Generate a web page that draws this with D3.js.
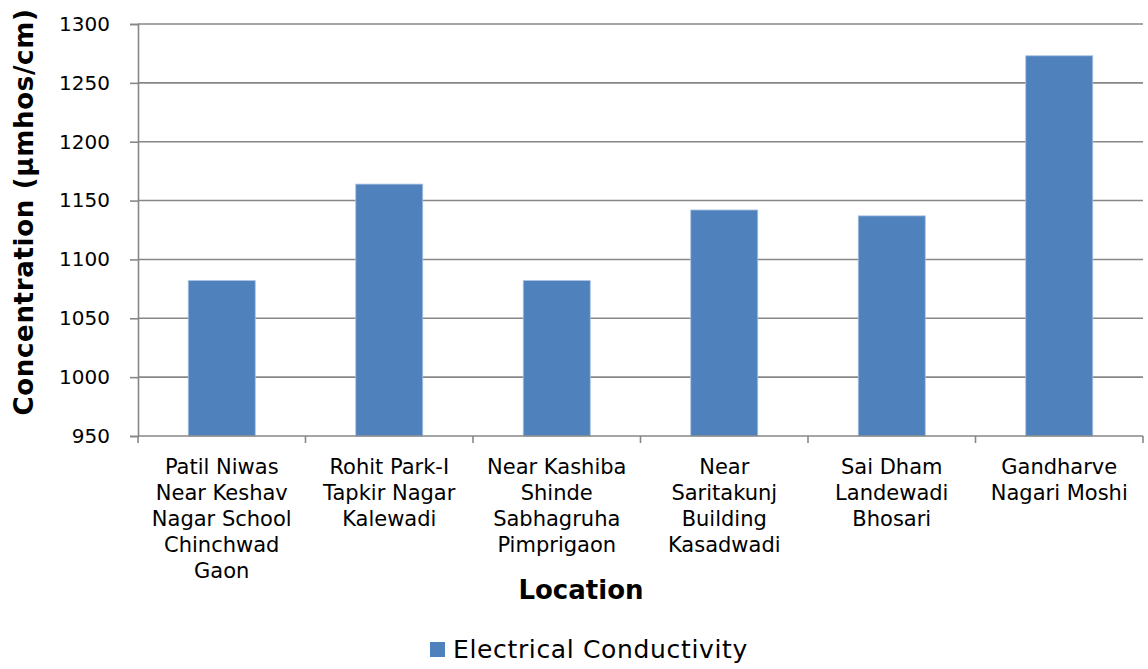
<!DOCTYPE html>
<html>
<head>
<meta charset="utf-8">
<script src="https://cdn.jsdelivr.net/npm/d3@7"></script>
<style>
  body { margin: 0; background: #fff; }
  svg { display: block; font-family: "DejaVu Sans", Verdana, sans-serif; }
</style>
</head>
<body>
<svg id="chart" width="1148" height="669"></svg>
<script>
// Sampling locations (multi-line labels)
const locations = [
  ["Patil Niwas", "Near Keshav", "Nagar School", "Chinchwad", "Gaon"],
  ["Rohit Park-I", "Tapkir Nagar", "Kalewadi"],
  ["Near Kashiba", "Shinde", "Sabhagruha", "Pimprigaon"],
  ["Near", "Saritakunj", "Building", "Kasadwadi"],
  ["Sai Dham", "Landewadi", "Bhosari"],
  ["Gandharve", "Nagari Moshi"]
];
// Electrical conductivity (µmhos/cm)
const conductivity = [1082, 1164, 1082, 1142, 1137, 1273];
const yTicks = [950, 1000, 1050, 1100, 1150, 1200, 1250, 1300];
const seriesName = "Electrical Conductivity";

const svg = d3.select("#chart");
const left = 138, right = 1143;
const y0 = 436, y1 = 24;
const plotW = right - left;

const x = d3.scaleBand()
  .domain(d3.range(locations.length))
  .range([left, right])
  .paddingInner(0.6)
  .paddingOuter(0.3);

const y = d3.scaleLinear().domain([950, 1300]).range([y0, y1]);

const gridColor = "#878787";

// horizontal gridlines
svg.append("g").selectAll("line")
  .data(yTicks.slice(1))
  .join("line")
  .attr("x1", left).attr("x2", right)
  .attr("y1", d => y(d)).attr("y2", d => y(d))
  .attr("stroke", gridColor).attr("stroke-width", 1.6);

// bars
svg.append("g").selectAll("rect")
  .data(conductivity)
  .join("rect")
  .attr("x", (d, i) => x(i))
  .attr("width", x.bandwidth())
  .attr("y", d => y(d))
  .attr("height", d => y0 - y(d))
  .attr("fill", "#4F81BD")
  .attr("stroke", "#a9c1e0")
  .attr("stroke-width", 0.8);

// y axis
const yAxis = d3.axisLeft(y).tickValues(yTicks).tickSize(8).tickPadding(20).tickFormat(d3.format("d"));
const gy = svg.append("g").attr("transform", `translate(${left},0)`).call(yAxis);
gy.select(".domain").attr("stroke", gridColor).attr("stroke-width", 1.6);
gy.selectAll(".tick line").attr("stroke", gridColor).attr("stroke-width", 1.6);
gy.selectAll(".tick text").attr("font-size", 20).attr("fill", "#000")
  .attr("font-family", "DejaVu Sans, Verdana, sans-serif");

// x axis baseline and category boundary ticks
const bounds = d3.range(locations.length + 1).map(i => left + i * plotW / locations.length);
svg.append("line")
  .attr("x1", left).attr("x2", right)
  .attr("y1", y0).attr("y2", y0)
  .attr("stroke", gridColor).attr("stroke-width", 1.6);
svg.append("g").selectAll("line")
  .data(bounds)
  .join("line")
  .attr("x1", d => d).attr("x2", d => d)
  .attr("y1", y0).attr("y2", y0 + 7)
  .attr("stroke", gridColor).attr("stroke-width", 1.6);

// category labels
const labels = svg.append("g").selectAll("text")
  .data(locations)
  .join("text")
  .attr("text-anchor", "middle")
  .attr("font-size", 21)
  .attr("fill", "#000")
  .attr("x", (d, i) => x(i) + x.bandwidth() / 2)
  .attr("y", 474);
labels.selectAll("tspan")
  .data((d, i) => d.map(t => ({ t, i })))
  .join("tspan")
  .attr("x", d => x(d.i) + x.bandwidth() / 2)
  .attr("dy", (d, j) => j === 0 ? 0 : 26)
  .text(d => d.t);

// axis titles
svg.append("text")
  .attr("transform", "translate(33,212) rotate(-90)")
  .attr("text-anchor", "middle")
  .attr("font-size", 26).attr("font-weight", "bold")
  .attr("letter-spacing", 0.7)
  .text("Concentration (µmhos/cm)");

svg.append("text")
  .attr("x", 581).attr("y", 599)
  .attr("text-anchor", "middle")
  .attr("font-size", 26).attr("font-weight", "bold")
  .text("Location");

// legend
const lg = svg.append("g").attr("transform", "translate(430,642)");
lg.append("rect").attr("width", 15).attr("height", 15).attr("fill", "#4F81BD");
lg.append("text").attr("x", 23).attr("y", 16).attr("font-size", 25)
  .attr("letter-spacing", 0.65).text(seriesName);
</script>
</body>
</html>
